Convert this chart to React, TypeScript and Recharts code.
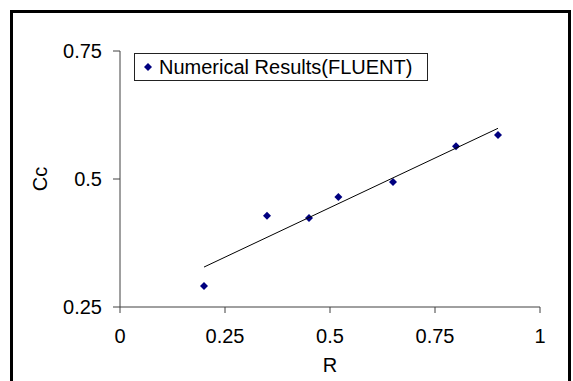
import { ScatterChart, Scatter, XAxis, YAxis, Legend, Label } from 'recharts';

const rValues = [0.2, 0.35, 0.45, 0.52, 0.65, 0.8, 0.9];
const ccValues = [0.291, 0.428, 0.424, 0.465, 0.494, 0.564, 0.586];
const trendR = [0.2, 0.9];
const trendCc = [0.328, 0.599];
const xTicks = [0, 0.25, 0.5, 0.75, 1];
const yTicks = [0.25, 0.5, 0.75];

const points = rValues.map((r, i) => ({ r, cc: ccValues[i] }));
const trend = trendR.map((r, i) => ({ r, cc: trendCc[i] }));

const FONT = '"Liberation Sans", Arial, sans-serif';
const NAVY = '#000080';

const Diamond = (props: any) => {
  const { cx, cy } = props;
  const s = 4;
  return <polygon points={`${cx},${cy - s} ${cx + s},${cy} ${cx},${cy + s} ${cx - s},${cy}`} fill={NAVY} />;
};

const LegendBox = (props: any) => (
  <div
    style={{
      border: '1px solid #222',
      background: '#fff',
      width: 292,
      height: 26,
      display: 'flex',
      alignItems: 'center',
      fontFamily: FONT,
      fontSize: 20,
      color: '#000',
      whiteSpace: 'nowrap',
    }}
  >
    {(props.payload || [])
      .filter((p: any) => p.type !== 'none')
      .map((p: any) => (
        <span key={p.value} style={{ display: 'flex', alignItems: 'center' }}>
          <svg width={8} height={8} style={{ marginLeft: 9, marginRight: 7 }}>
            <polygon points="4,0 8,4 4,8 0,4" fill={NAVY} />
          </svg>
          <span>{p.value}</span>
        </span>
      ))}
  </div>
);

export default function App() {
  return (
    <div style={{ position: 'absolute', left: 0, top: 0, width: 573, height: 381, overflow: 'hidden', background: '#fff' }}>
      <div
        style={{
          position: 'absolute',
          left: 10,
          top: 10,
          width: 561,
          height: 400,
          border: '3px solid #000',
          boxSizing: 'border-box',
        }}
      />
      <div style={{ position: 'absolute', left: 0, top: 0 }}>
        <ScatterChart width={573} height={381} margin={{ top: 51, right: 33, bottom: 14, left: 50 }}>
          <XAxis
            type="number"
            dataKey="r"
            domain={[0, 1]}
            ticks={xTicks}
            height={60}
            stroke="#404040"
            tickSize={6}
            tickMargin={16}
            tick={{ fontSize: 20, fill: '#000', fontFamily: FONT }}
            tickFormatter={(v: number) => String(v)}
          >
            <Label
              content={(p: any) => (
                <text
                  x={p.viewBox.x + p.viewBox.width / 2}
                  y={365}
                  textAnchor="middle"
                  dominantBaseline="central"
                  fontSize={20}
                  fontFamily={FONT}
                  fill="#000"
                >
                  R
                </text>
              )}
            />
          </XAxis>
          <YAxis
            type="number"
            dataKey="cc"
            domain={[0.25, 0.75]}
            ticks={yTicks}
            width={70}
            stroke="#404040"
            tickSize={7}
            tickMargin={11}
            tick={{ fontSize: 20, fill: '#000', fontFamily: FONT }}
            tickFormatter={(v: number) => String(v)}
          >
            <Label
              content={(p: any) => {
                const x = p.viewBox.x - 10;
                const y = p.viewBox.y + p.viewBox.height / 2;
                return (
                  <text
                    x={x}
                    y={y}
                    transform={`rotate(-90, ${x}, ${y})`}
                    textAnchor="middle"
                    dominantBaseline="central"
                    fontSize={20}
                    fontFamily={FONT}
                    fill="#000"
                  >
                    Cc
                  </text>
                );
              }}
            />
          </YAxis>
          <Legend
            layout="horizontal"
            verticalAlign="middle"
            align="center"
            wrapperStyle={{ left: 134, top: 53, width: 'auto', height: 'auto' }}
            content={LegendBox}
          />
          <Scatter
            name="Numerical Results(FLUENT)"
            data={points}
            fill={NAVY}
            shape={Diamond}
            isAnimationActive={false}
          />
          <Scatter
            name="trend"
            data={trend}
            legendType="none"
            line={{ stroke: '#000', strokeWidth: 1 }}
            shape={() => <g />}
            isAnimationActive={false}
          />
        </ScatterChart>
      </div>
    </div>
  );
}
